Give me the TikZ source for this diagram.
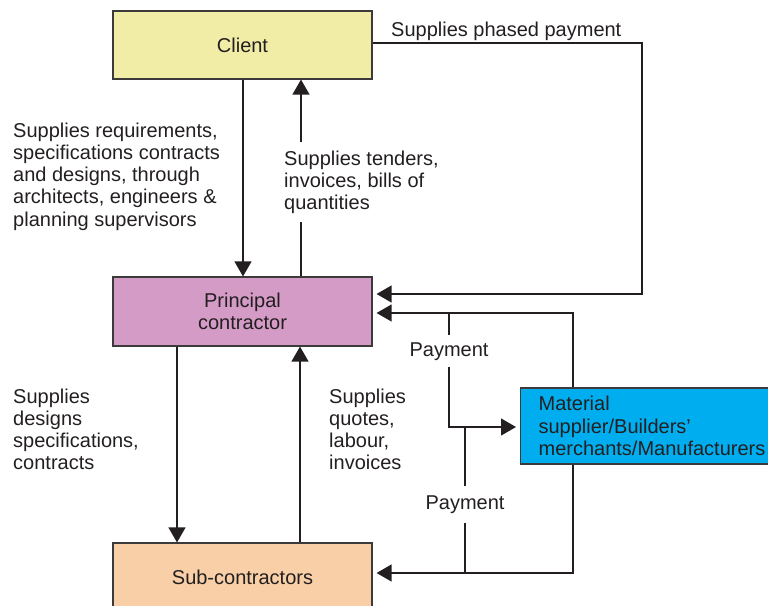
\documentclass[tikz,border=0pt]{standalone}
\usepackage{fontspec}
\setmainfont{Liberation Sans}
\usetikzlibrary{arrows.meta}
\definecolor{ink}{HTML}{231F20}
\definecolor{edge}{HTML}{3C3A3B}
\definecolor{clientfill}{HTML}{F2EDA6}
\definecolor{princfill}{HTML}{D49BC6}
\definecolor{subfill}{HTML}{F8CFA7}
\definecolor{matfill}{HTML}{00AEEF}
\begin{document}
\begin{tikzpicture}[
  x=1pt, y=-1pt,
  txt/.style={font=\fontsize{20}{22.3}\selectfont, text=ink},
  box/.style={txt, draw=edge, line width=1.2pt, minimum width=259pt,
    minimum height=68pt, inner sep=0pt, align=center},
  % multi-line labels are placed by the baseline of their last line
  lbl/.style={txt, align=left, inner sep=0pt, anchor=base west},
  paylbl/.style={txt, inner xsep=0pt, anchor=base},
  conn/.style={draw=ink, line width=1.3pt},
  arr/.style={conn, -{Triangle[length=15pt,width=17pt]}}
]
\useasboundingbox (0,0) rectangle (768,605);

% boxes
\node[box, fill=clientfill] (client) at (242.5,45) {Client};
\node[box, fill=princfill, minimum height=69pt] (principal) at (242.5,311.5) {Principal\\contractor};
\node[box, fill=subfill] (sub) at (242.5,577) {Sub-contractors};
\node[box, fill=matfill, anchor=west, minimum height=76pt, text width=232pt,
  inner xsep=18pt, align=left] (material) at (520,426)
  {Material\\supplier/Builders’\\merchants/Manufacturers};

% labels
\node[lbl] (req) at (13,226.2) {Supplies requirements,\\specifications contracts\\and designs, through\\architects, engineers \&\\planning supervisors};
\node[lbl, inner ysep=8pt] (tenders) at (284,209.6) {Supplies tenders,\\invoices, bills of\\quantities};
\node[lbl] (phased) at (391,36) {Supplies phased payment};
\node[lbl] (designs) at (13,469.9) {Supplies\\designs\\specifications,\\contracts};
\node[lbl] (quotes) at (329,469.9) {Supplies\\quotes,\\labour,\\invoices};
\node[paylbl, inner ysep=7pt] (pay1) at (449,356) {Payment};
\node[paylbl, inner ysep=9.5pt] (pay2) at (465,509) {Payment};

% turning points
\coordinate (xa) at (243,0);
\coordinate (xb) at (301,0);
\coordinate (xc) at (177,0);
\coordinate (xd) at (300,0);
\coordinate (ph) at (642,43);
\coordinate (pin) at (0,294);
\coordinate (mp) at (573,313);
\coordinate (pa) at (449,313);
\coordinate (pb) at (449,427);
\coordinate (ms) at (573,573);
\coordinate (pc) at (465,573);
\coordinate (pd) at (465,427);

% client <-> principal
\draw[arr] (client.south -| xa) -- (principal.north -| xa);
\draw[conn] (principal.north -| xb) -- (tenders.south -| xb);
\draw[arr] (tenders.north -| xb) -- (client.south -| xb);

% phased payment
\draw[arr, shorten >=4pt] (client.east |- ph) -- (ph) -- (ph |- pin) -- (principal.east |- pin);

% principal <-> sub-contractors
\draw[arr] (principal.south -| xc) -- (sub.north -| xc);
\draw[arr] (sub.north -| xd) -- (principal.south -| xd);

% material supplier links
\draw[arr, shorten >=4pt] (material.north -| mp) -- (mp) -- (principal.east |- mp);
\draw[arr, shorten >=4pt] (material.south -| ms) -- (ms) -- (sub.east |- ms);

% payments to the material supplier
\draw[conn] (pa) -- (pay1.north);
\draw[arr, shorten >=4pt] (pay1.south) -- (pb) -- (material.west |- pb);
\draw[conn] (pc) -- (pay2.south);
\draw[conn] (pay2.north) -- (pd);
\end{tikzpicture}
\end{document}
